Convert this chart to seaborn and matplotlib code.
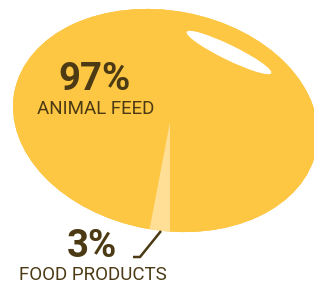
import matplotlib
matplotlib.use("Agg")
import matplotlib.pyplot as plt
from matplotlib.patches import Ellipse
import seaborn as sns

# Data
categories = ["ANIMAL FEED", "FOOD PRODUCTS"]
shares = [97, 3]
labels = ["97%", "3%"]

# Colours
bean_color = "#fdc643"
slice_colors = ["#fdc643", "#ffdf95"]
text_color = "#4b3a13"

sns.set_theme(style="white")
plt.rcParams['font.family'] = ['Roboto', 'DejaVu Sans']

fig = plt.figure(figsize=(3.14, 2.85), dpi=100)
ax = fig.add_axes([0, 0, 1, 1])

# bean shape (pixel-ish canvas, y up)
bean = Ellipse((165.5, 164.5), 307.6, 219.6, angle=-10.6,
               facecolor=bean_color, edgecolor="none", zorder=1)
ax.add_patch(bean)

wedges, _ = ax.pie(shares, colors=slice_colors, startangle=270,
                   center=(170, 163), radius=260, frame=True,
                   wedgeprops=dict(linewidth=0))
for w in wedges:
    w.set_zorder(2)
    w.set_clip_on(True)
    w.set_clip_path(bean)

# shine on the bean
shine = Ellipse((229, 232.5), 94, 15, angle=-26,
                facecolor="white", edgecolor="none", zorder=3)
ax.add_patch(shine)

# labels
ax.text(95, 206, labels[0], ha="center", va="center", fontsize=27.5,
        fontweight="bold", color=text_color, zorder=4)
ax.text(96, 176.5, categories[0], ha="center", va="center", fontsize=13.5,
        color=text_color, zorder=4)
ax.text(92, 38.5, labels[1], ha="center", va="center", fontsize=27.5,
        fontweight="bold", color=text_color, zorder=4)
ax.text(92.5, 10, categories[1], ha="center", va="center", fontsize=13.5,
        color=text_color, zorder=4)

# leader line for the small slice
ax.plot([133, 140, 161], [28, 28, 54], color=text_color, lw=1.8,
        solid_capstyle="butt", zorder=4)

ax.set_xlim(0, 314)
ax.set_ylim(0, 285)
ax.set_aspect("equal")
ax.axis("off")

fig.savefig("out.png", dpi=100)
